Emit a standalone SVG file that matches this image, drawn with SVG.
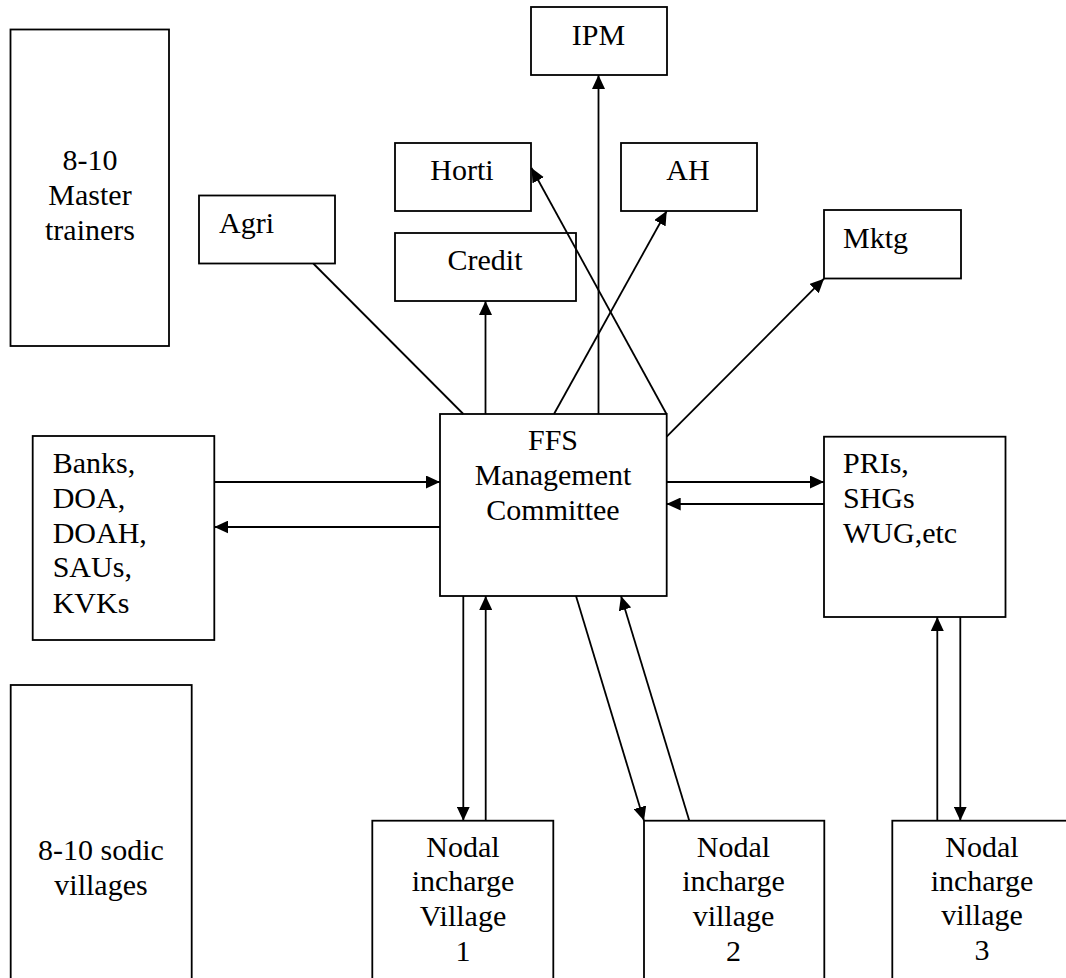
<svg xmlns="http://www.w3.org/2000/svg" width="1066" height="978" viewBox="0 0 1066 978">
<style>
.box{fill:#fff;stroke:#000;stroke-width:1.8}
text{font-family:'Liberation Serif','Times New Roman',Tinos,'Nimbus Roman','DejaVu Serif',serif;font-size:30px;fill:#000}
.c{text-anchor:middle}
.ln{stroke:#000;stroke-width:1.8;fill:none}
.ar{marker-end:url(#ah)}
</style>
<defs>
<marker id="ah" markerUnits="userSpaceOnUse" markerWidth="14" markerHeight="13" refX="14" refY="6.5" orient="auto">
<path d="M0,0 L14,6.5 L0,13 z" fill="#000"/>
</marker>
</defs>
<rect width="1066" height="978" fill="#fff"/>

<g id="master">
<rect class="box" x="10.5" y="29.5" width="158.5" height="316.5"/>
<text class="c" x="90" y="170">8-10</text>
<text class="c" x="90" y="205">Master</text>
<text class="c" x="90" y="240">trainers</text>
</g>
<g id="agri">
<rect class="box" x="199" y="195.5" width="136" height="68"/>
<text x="219" y="233">Agri</text>
</g>
<g id="ipm">
<rect class="box" x="531" y="7" width="136" height="68"/>
<text class="c" x="598.5" y="45">IPM</text>
</g>
<g id="horti">
<rect class="box" x="395" y="143" width="136" height="68"/>
<text class="c" x="462" y="180">Horti</text>
</g>
<g id="ah-node">
<rect class="box" x="621" y="143" width="136" height="68"/>
<text class="c" x="688" y="180">AH</text>
</g>
<g id="credit">
<rect class="box" x="395" y="233" width="181" height="68"/>
<text class="c" x="485" y="270">Credit</text>
</g>
<g id="mktg">
<rect class="box" x="824" y="210" width="137" height="68.5"/>
<text x="843" y="248">Mktg</text>
</g>
<g id="ffs">
<rect class="box" x="440" y="414" width="226.7" height="182"/>
<text class="c" x="553" y="450">FFS</text>
<text class="c" x="553" y="485">Management</text>
<text class="c" x="553" y="520">Committee</text>
</g>
<g id="banks">
<rect class="box" x="32.7" y="436" width="181.6" height="204"/>
<text x="52.7" y="473">Banks,</text>
<text x="52.7" y="508">DOA,</text>
<text x="52.7" y="543">DOAH,</text>
<text x="52.7" y="577">SAUs,</text>
<text x="52.7" y="613">KVKs</text>
</g>
<g id="pris">
<rect class="box" x="824" y="436.7" width="181.5" height="180.3"/>
<text x="843" y="473">PRIs,</text>
<text x="843" y="508">SHGs</text>
<text x="843" y="543">WUG,etc</text>
</g>
<g id="sodic">
<rect class="box" x="10.7" y="685" width="181" height="310"/>
<text class="c" x="101" y="860">8-10 sodic</text>
<text class="c" x="101" y="895">villages</text>
</g>
<g id="nodal1">
<rect class="box" x="372.3" y="820.7" width="181" height="180"/>
<text class="c" x="463" y="857">Nodal</text>
<text class="c" x="463" y="891">incharge</text>
<text class="c" x="463" y="926">Village</text>
<text class="c" x="463" y="961">1</text>
</g>
<g id="nodal2">
<rect class="box" x="644" y="820.7" width="180.3" height="180"/>
<text class="c" x="733.5" y="857">Nodal</text>
<text class="c" x="733.5" y="891">incharge</text>
<text class="c" x="733.5" y="926">village</text>
<text class="c" x="733.5" y="961">2</text>
</g>
<g id="nodal3">
<rect class="box" x="892.3" y="820.7" width="181" height="180"/>
<text class="c" x="982" y="857">Nodal</text>
<text class="c" x="982" y="891">incharge</text>
<text class="c" x="982" y="925">village</text>
<text class="c" x="982" y="960">3</text>
</g>

<g id="connectors">
<line class="ln" x1="313.3" y1="263.5" x2="463.3" y2="414"/>
<line class="ln ar" x1="485.5" y1="414" x2="485.5" y2="301"/>
<line class="ln ar" x1="598.5" y1="414" x2="598.5" y2="75"/>
<line class="ln ar" x1="554" y1="414" x2="666.7" y2="211"/>
<line class="ln ar" x1="666.5" y1="414" x2="531.5" y2="168"/>
<line class="ln ar" x1="666.7" y1="436.7" x2="824" y2="278.7"/>
<line class="ln ar" x1="214.3" y1="482" x2="440" y2="482"/>
<line class="ln ar" x1="440" y1="527" x2="214.3" y2="527"/>
<line class="ln ar" x1="666.7" y1="482" x2="824" y2="482"/>
<line class="ln ar" x1="824" y1="504" x2="666.7" y2="504"/>
<line class="ln ar" x1="463.3" y1="596" x2="463.3" y2="820.7"/>
<line class="ln ar" x1="485.7" y1="820.7" x2="485.7" y2="596"/>
<line class="ln ar" x1="576" y1="596" x2="644" y2="820.7"/>
<line class="ln ar" x1="689.3" y1="820.7" x2="621" y2="596"/>
<line class="ln ar" x1="937.3" y1="820.7" x2="937.3" y2="617"/>
<line class="ln ar" x1="960.3" y1="617" x2="960.3" y2="820.7"/>
</g>
</svg>
